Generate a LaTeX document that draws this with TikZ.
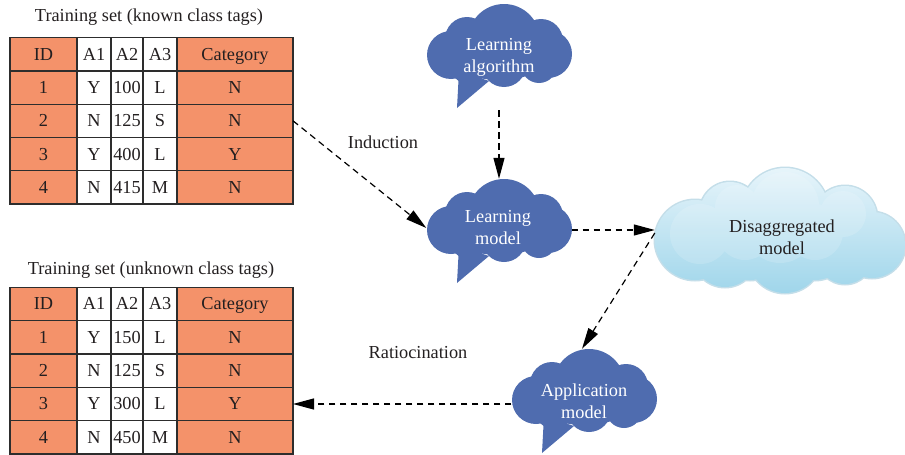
\documentclass[tikz,border=0pt]{standalone}
\usepackage{fontspec}
\setmainfont{Liberation Serif}
\usetikzlibrary{arrows.meta,shapes.geometric}

\definecolor{cellorange}{RGB}{244,146,106}
\definecolor{cloudblue}{RGB}{79,108,175}
\definecolor{gridline}{RGB}{45,45,45}
\definecolor{inktext}{RGB}{35,31,32}
\definecolor{skytop}{RGB}{232,245,251}
\definecolor{skybottom}{RGB}{158,213,234}
\definecolor{skyrim}{RGB}{196,222,233}

% table cells
\newcommand\trow[8]{%
  \node[cell,fill=cellorange,minimum width=67pt]  (#1-#2-1) at (43.5,#3) {#4};
  \node[cell,fill=white,minimum width=34pt]       (#1-#2-2) at (94,#3)   {#5};
  \node[cell,fill=white,minimum width=32pt]       (#1-#2-3) at (127,#3)  {#6};
  \node[cell,fill=white,minimum width=34pt]       (#1-#2-4) at (160,#3)  {#7};
  \node[cell,fill=cellorange,minimum width=116pt] (#1-#2-5) at (235,#3)  {#8};
}

% puffs of the light cloud: x/y/radius
\def\skypuffs{695/240/40,730/212/30,785/212/44,845/218/32,872/245/33,725/255/32,785/256/37,845/256/28,780/238/40,750/245/35,815/245/35}
\def\skyglow{700/234/30,737/207/22,785/206/34,843/214/23,780/228/35,745/232/28,815/232/28}

\tikzset{
  basefont/.style={font=\fontsize{18.3}{22}\selectfont},
  cell/.style={draw=gridline,line width=1.3pt,inner sep=0pt,outer sep=0pt,
    minimum height=33.3pt,text height=11.8pt,text depth=0pt,text=inktext,basefont},
  label/.style={text=inktext,basefont,inner sep=0pt},
  cloudtext/.style={text=white,basefont,align=center,inner sep=0pt},
  skytext/.style={text=inktext,basefont,align=center,inner sep=0pt},
  conn/.style={draw=black,line width=1.2pt,dash pattern=on 6.5pt off 4.5pt,
    -{Triangle[length=21pt,width=11pt]}},
  bluecloud/.pic={
    \fill[cloudblue]
      (5,-5) circle[radius=36]
      (-32,-6) circle[radius=22]
      (42,-4) circle[radius=22]
      (-48,10) circle[radius=24]
      (49,9) circle[radius=24]
      (-30,20) circle[radius=19]
      (5,20) circle[radius=22]
      (40,20) circle[radius=18]
      (0,5) ellipse[x radius=55,y radius=30];
    \fill[cloudblue] (-40,26) -- (-10,36) -- (-42,63) -- cycle;
  }
}

\begin{document}
\begin{tikzpicture}[x=1pt,y=-1pt]
\useasboundingbox (0,0) rectangle (905,455);

% ---- known class tags table
\node[label] (title1) at (149,17) {Training set (known class tags)};
\trow{k}{0}{54.3}{ID}{A1}{A2}{A3}{Category}
\trow{k}{1}{87.6}{1}{Y}{100}{L}{N}
\trow{k}{2}{120.8}{2}{N}{125}{S}{N}
\trow{k}{3}{154.1}{3}{Y}{400}{L}{Y}
\trow{k}{4}{187.3}{4}{N}{415}{M}{N}

% ---- unknown class tags table
\node[label] (title2) at (151,270) {Training set (unknown class tags)};
\trow{u}{0}{304}{ID}{A1}{A2}{A3}{Category}
\trow{u}{1}{337.3}{1}{Y}{150}{L}{N}
\trow{u}{2}{370.7}{2}{N}{125}{S}{N}
\trow{u}{3}{404}{3}{Y}{300}{L}{Y}
\trow{u}{4}{437.4}{4}{N}{450}{M}{N}

% ---- speech-bubble clouds
\pic at (499,45) {bluecloud};
\pic at (499,220) {bluecloud};
\pic at (584,390) {bluecloud};
\node[ellipse,minimum width=145pt,minimum height=82pt,inner sep=0pt] (la) at (499,45) {};
\node[ellipse,minimum width=145pt,minimum height=82pt,inner sep=0pt] (lm) at (499,220) {};
\node[ellipse,minimum width=145pt,minimum height=82pt,inner sep=0pt] (am) at (584,390) {};
\node[cloudtext] (la-text) at (499,57) {Learning\\algorithm};
\node[cloudtext] (lm-text) at (498,228) {Learning\\model};
\node[cloudtext] (am-text) at (584,401) {Application\\model};

% ---- light cloud
\fill[skyrim] \foreach \x/\y/\r in \skypuffs {(\x,\y) circle[radius=\r+1.5]};
\begin{scope}
  \clip \foreach \x/\y/\r in \skypuffs {(\x,\y) circle[radius=\r]};
  \shade[top color=skytop,bottom color=skybottom] (650,165) rectangle (906,296);
  \fill[white,opacity=0.15] \foreach \x/\y/\r in \skyglow {(\x,\y) circle[radius=\r]};
\end{scope}
\node[ellipse,minimum width=250pt,minimum height=124pt,inner sep=0pt] (dm) at (780,230) {};
\node[skytext] (dm-text) at (782,237) {Disaggregated\\model};

% ---- connectors
\draw[conn] (k-2-5.east) -- ([yshift=-8pt]lm.west);
\draw[conn] ([yshift=-24pt]la.south) -- (lm.north);
\draw[conn] (lm.east |- dm.west) -- (dm.west);
\draw[conn] ([yshift=-3pt]dm.west) -- ([xshift=-2pt]am.north);
\draw[conn] (am.west |- u-3-5.east) -- (u-3-5.east);

\node[label] (induction) at (383,142) {Induction};
\node[label] (ratiocination) at (418,353) {Ratiocination};
\end{tikzpicture}
\end{document}
